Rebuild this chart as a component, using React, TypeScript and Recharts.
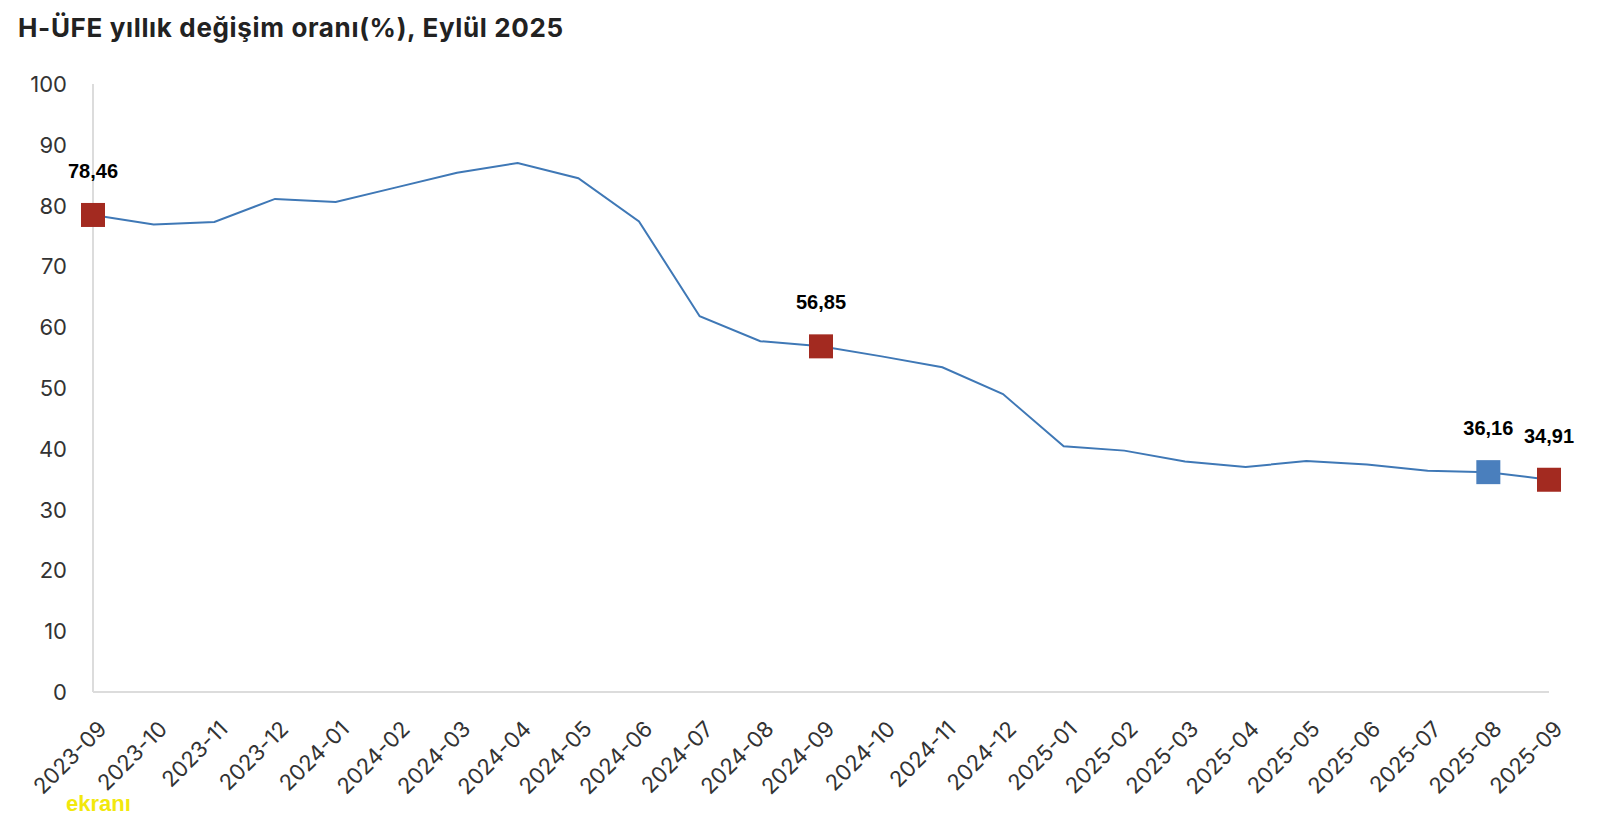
import React from 'react';
import { LineChart, Line, XAxis, YAxis, LabelList } from 'recharts';

const months = [
  '2023-09', '2023-10', '2023-11', '2023-12',
  '2024-01', '2024-02', '2024-03', '2024-04', '2024-05', '2024-06',
  '2024-07', '2024-08', '2024-09', '2024-10', '2024-11', '2024-12',
  '2025-01', '2025-02', '2025-03', '2025-04', '2025-05', '2025-06',
  '2025-07', '2025-08', '2025-09',
];
const values = [
  78.46, 76.9, 77.3, 81.1,
  80.6, 83.0, 85.4, 87.0, 84.5, 77.4,
  61.8, 57.7, 56.85, 55.2, 53.4, 49.0,
  40.4, 39.7, 37.9, 37.0, 38.0, 37.4,
  36.4, 36.16, 34.91,
];
const redHighlights = ['2023-09', '2024-09', '2025-09'];
const blueHighlights = ['2025-08'];
const yTicks = [0, 10, 20, 30, 40, 50, 60, 70, 80, 90, 100];

const title = 'H-ÜFE yıllık değişim oranı(%), Eylül 2025';

const data = months.map((m, i) => ({
  month: m,
  value: values[i],
  red: redHighlights.includes(m) ? values[i] : null,
  blue: blueHighlights.includes(m) ? values[i] : null,
}));

const LINE = '#3f78b6';
const RED = '#a32a20';
const BLUE = '#4a7fbd';
const TICK_FONT = 'Inter, "Noto Sans", sans-serif';

const squareDot = (color: string) => (props: any) => {
  const { cx, cy, value, index } = props;
  if (value == null || cx == null || cy == null) return <g key={`e${index}`} />;
  const s = 24;
  return <rect key={`d${index}`} x={cx - s / 2} y={cy - s / 2} width={s} height={s} fill={color} />;
};

const fmt = (v: any) => (v == null ? '' : Number(v).toFixed(2).replace('.', ','));

const renderLabel = (props: any) => {
  const { x, y, value, index } = props;
  if (value == null) return null;
  return (
    <text
      key={`l${index}`}
      x={x}
      y={y - 44}
      dy={7}
      textAnchor="middle"
      fontFamily='"Liberation Sans", Arial, sans-serif'
      fontWeight="bold"
      fontSize={20}
      fill="#000"
    >
      {fmt(value)}
    </text>
  );
};

const YTick = (props: any) => {
  const { x, y, payload } = props;
  return (
    <text x={x} y={y} dx={-18} dy={8} textAnchor="end" fontFamily={TICK_FONT} fontSize={22} fill="#333">
      {payload.value}
    </text>
  );
};

const XTick = (props: any) => {
  const { x, y, payload } = props;
  return (
    <g transform={`translate(${x},${y})`}>
      <text
        x={0}
        y={0}
        dx={-11}
        dy={32}
        textAnchor="end"
        transform="rotate(-45)"
        fontFamily={TICK_FONT}
        fontSize={22}
        fill="#333"
      >
        {payload.value}
      </text>
    </g>
  );
};

export default function App() {
  return (
    <div style={{ position: 'absolute', left: 0, top: 0, width: 1606, height: 816, background: '#fff', overflow: 'hidden' }}>
      <div
        style={{
          position: 'absolute',
          left: 18,
          top: 15,
          fontFamily: 'Inter, "Noto Sans", sans-serif',
          fontWeight: 700,
          fontSize: 26,
          lineHeight: '26px',
          letterSpacing: 0.65,
          color: '#222',
          whiteSpace: 'nowrap',
        }}
      >
        {title}
      </div>
      <LineChart
        width={1606}
        height={816}
        data={data}
        margin={{ top: 84, right: 57, bottom: 24, left: 33 }}
      >
        <XAxis
          dataKey="month"
          interval={0}
          height={100}
          tick={<XTick />}
          tickLine={false}
          axisLine={{ stroke: '#dcdcdc', strokeWidth: 2 }}
          padding={{ left: 0, right: 0 }}
        />
        <YAxis
          domain={[0, 100]}
          ticks={yTicks}
          width={60}
          tick={<YTick />}
          tickLine={false}
          axisLine={{ stroke: '#dcdcdc', strokeWidth: 2 }}
          interval={0}
        />
        <Line
          type="linear"
          dataKey="value"
          stroke={LINE}
          strokeWidth={2}
          dot={false}
          activeDot={false}
          isAnimationActive={false}
        />
        <Line
          type="linear"
          dataKey="red"
          stroke="none"
          dot={squareDot(RED)}
          activeDot={false}
          isAnimationActive={false}
          connectNulls={false}
        >
          <LabelList dataKey="red" content={renderLabel} />
        </Line>
        <Line
          type="linear"
          dataKey="blue"
          stroke="none"
          dot={squareDot(BLUE)}
          activeDot={false}
          isAnimationActive={false}
          connectNulls={false}
        >
          <LabelList dataKey="blue" content={renderLabel} />
        </Line>
      </LineChart>
      <div
        style={{
          position: 'absolute',
          left: 66,
          top: 791,
          fontFamily: '"Liberation Sans", Arial, sans-serif',
          fontWeight: 700,
          fontSize: 22,
          color: '#f2e80c',
        }}
      >
        ekranı
      </div>
    </div>
  );
}
